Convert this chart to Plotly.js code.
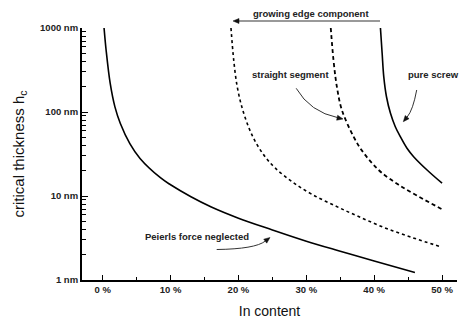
<!DOCTYPE html>
<html>
<head>
<meta charset="utf-8">
<script src="https://cdn.plot.ly/plotly-3.0.1.min.js"></script>
<style>html,body{margin:0;padding:0;background:#fff;}#chart{width:464px;height:325px;}</style>
</head>
<body>
<div id="chart"></div>
<script>
// Data (In content %, critical thickness nm)
const peierlsX = [0.2, 0.5, 1.1, 1.8, 2.6, 4.0, 5.5, 8.5, 10, 13, 16, 20, 25, 30, 35, 40, 46];
const peierlsY = [1000, 547, 220, 115, 73, 42, 28, 16.5, 13.6, 9.8, 7.4, 5.45, 3.95, 2.9, 2.2, 1.68, 1.23];

const dottedX = [18.9, 19.3, 19.8, 20.5, 21.5, 22.5, 23.9, 25.4, 27.9, 30.8, 34.3, 37.7, 41.6, 45.6, 49.8];
const dottedY = [1000, 417, 204, 115, 66, 44.2, 29.5, 21.6, 14.8, 10.5, 7.6, 5.69, 4.17, 3.2, 2.49];

const straightX = [33.6, 34.0, 34.5, 35.25, 37.0, 38.2, 39.7, 41.15, 43.6, 46.5, 50.0];
const straightY = [1000, 417, 200, 105, 50.1, 34.7, 24.5, 18.8, 13.6, 9.9, 6.95];

const screwX = [40.92, 41.17, 41.41, 41.81, 42.4, 43.11, 43.85, 44.83, 45.81, 47.79, 50.0];
const screwY = [1000, 500, 264, 152, 96.4, 66.8, 50.8, 37.0, 29.4, 20.4, 14.2];

const xTickVals = [0, 10, 20, 30, 40, 50];
const xTickText = ['0 %', '10 %', '20 %', '30 %', '40 %', '50 %'];
const yTickVals = [1, 10, 100, 1000];
const yTickText = ['1 nm', '10 nm', '100 nm', '1000 nm'];
const yMinorVals = [2,3,4,5,6,7,8,9,20,30,40,50,60,70,80,90,200,300,400,500,600,700,800,900];

const labelFont = {family: 'Liberation Sans, Arial, sans-serif', size: 9.5, color: '#222', weight: 'bold'};

const traces = [
  {x: peierlsX, y: peierlsY, mode: 'lines', line: {color: '#000', width: 1.6, shape: 'spline', smoothing: 1}},
  {x: dottedX, y: dottedY, mode: 'lines', line: {color: '#000', width: 1.6, dash: 'dot', shape: 'spline', smoothing: 1}},
  {x: straightX, y: straightY, mode: 'lines', line: {color: '#000', width: 1.8, dash: '4px,3px', shape: 'spline', smoothing: 1}},
  {x: screwX, y: screwY, mode: 'lines', line: {color: '#000', width: 1.6, shape: 'spline', smoothing: 1}}
];

const arrowCol = '#333';
const pathLine = {color: arrowCol, width: 1};
const headStyle = {fillcolor: '#111', line: {color: '#111', width: 0.5}};
const layout = {
  width: 464, height: 325,
  margin: {l: 82, r: 7, t: 28, b: 45},
  paper_bgcolor: '#fff', plot_bgcolor: '#fff',
  showlegend: false,
  xaxis: {
    range: [-3.05, 52.2], showgrid: false, zeroline: false,
    showline: true, linecolor: '#000', linewidth: 2,
    ticks: 'inside', ticklen: 5, tickwidth: 1, tickcolor: '#000',
    tickvals: xTickVals, ticktext: xTickText, tickfont: labelFont,
    minor: {dtick: 5, tick0: 5, ticks: 'inside', ticklen: 3, tickwidth: 1, tickcolor: '#000', showgrid: false},
    title: {text: 'In content', font: {family: 'Liberation Sans, Arial, sans-serif', size: 14, color: '#111'}, standoff: 12}
  },
  yaxis: {
    type: 'log', range: [0, 3], showgrid: false, zeroline: false,
    showline: true, linecolor: '#000', linewidth: 2,
    ticks: 'inside', ticklen: 6, tickwidth: 1, tickcolor: '#000',
    tickvals: yTickVals, ticktext: yTickText, tickfont: labelFont,
    minor: {tickvals: yMinorVals, ticks: 'inside', ticklen: 4, tickwidth: 1, tickcolor: '#000', showgrid: false},
    title: {text: 'critical thickness h<sub>c</sub>', font: {family: 'Liberation Sans, Arial, sans-serif', size: 15, color: '#111'}, standoff: 12}
  },
  shapes: [
    // growing edge component arrow
    {type: 'line', xref: 'paper', yref: 'paper', x0: 0.41867, y0: 1.02778, x1: 0.79467, y1: 1.02778, line: {color: '#999', width: 1.8}},
    Object.assign({type: 'path', xref: 'paper', yref: 'paper', path: 'M 0.40267 1.02778 L 0.41867 1.03770 L 0.41867 1.01786 Z'}, headStyle),
    // straight segment arrow
    {type: 'path', xref: 'paper', yref: 'paper', path: 'M 0.5712 0.7607 Q 0.608 0.6667 0.68301 0.64383', line: pathLine},
    Object.assign({type: 'path', xref: 'paper', yref: 'paper', path: 'M 0.696 0.63889 L 0.67896 0.63413 L 0.68173 0.65353 Z'}, headStyle),
    // pure screw arrow
    {type: 'path', xref: 'paper', yref: 'paper', path: 'M 0.8925 0.754 Q 0.8827 0.6746 0.86701 0.64651', line: pathLine},
    Object.assign({type: 'path', xref: 'paper', yref: 'paper', path: 'M 0.8568 0.62817 L 0.86187 0.65282 L 0.87216 0.64016 Z'}, headStyle),
    // Peierls arrow
    {type: 'path', xref: 'paper', yref: 'paper', path: 'M 0.3592 0.121 Q 0.4613 0.123 0.48864 0.15417', line: pathLine},
    Object.assign({type: 'path', xref: 'paper', yref: 'paper', path: 'M 0.50133 0.16865 L 0.49269 0.14631 L 0.48459 0.16202 Z'}, headStyle)
  ],
  annotations: [
    {xref: 'paper', yref: 'paper', x: 0.6107, y: 1.0595, text: 'growing edge component', showarrow: false, font: labelFont, xanchor: 'center', yanchor: 'middle'},
    {xref: 'paper', yref: 'paper', x: 0.5547, y: 0.8135, text: 'straight segment', showarrow: false, font: labelFont, xanchor: 'center', yanchor: 'middle'},
    {xref: 'paper', yref: 'paper', x: 0.936, y: 0.8135, text: 'pure screw', showarrow: false, font: labelFont, xanchor: 'center', yanchor: 'middle'},
    {xref: 'paper', yref: 'paper', x: 0.3067, y: 0.1746, text: 'Peierls force neglected', showarrow: false, font: labelFont, xanchor: 'center', yanchor: 'middle'}
  ]
};

Plotly.newPlot('chart', traces, layout, {staticPlot: true, displayModeBar: false});
</script>
</body>
</html>
